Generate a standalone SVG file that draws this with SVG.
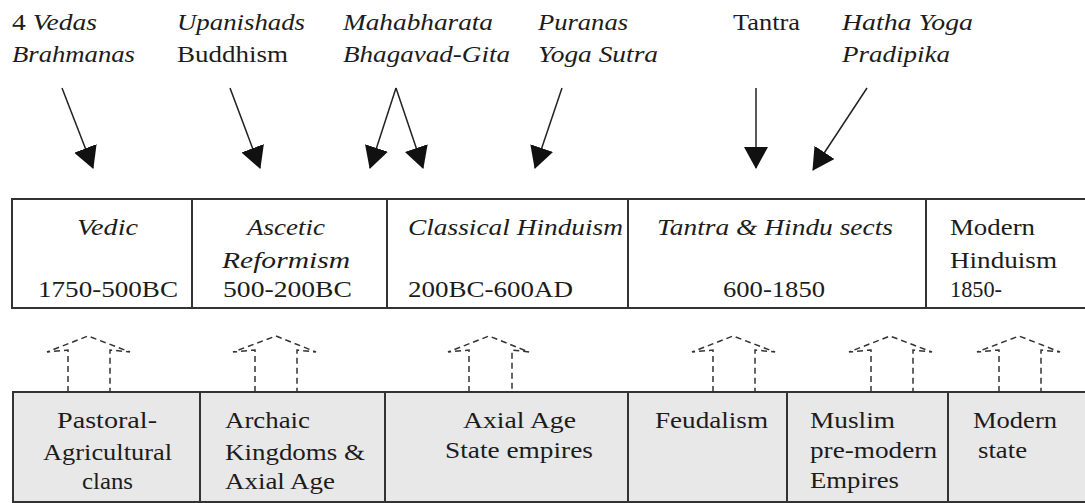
<svg xmlns="http://www.w3.org/2000/svg" width="1085" height="503" viewBox="0 0 1085 503">
  <defs>
    <marker id="head" markerUnits="userSpaceOnUse" markerWidth="24" markerHeight="26" refX="21" refY="12" orient="auto">
      <path d="M0,0 L22,12 L0,24 z" fill="#111"/>
    </marker>
  </defs>
  <style>
    text { font-family: 'Liberation Serif', serif; font-size: 24px; fill: #1c1c1c; }
    .it { font-style: italic; }
    .cell { fill: #fff; stroke: #333; stroke-width: 2; }
    .base { fill: #e8e8e8; stroke: #333; stroke-width: 2; }
    .src { stroke: #222; stroke-width: 1.5; fill: none; marker-end: url(#head); }
    .lift { stroke: #333; stroke-width: 1.5; fill: none; stroke-dasharray: 6 4; }
  </style>
  <rect width="1085" height="503" fill="#fff"/>

  <g font-family="Liberation Serif" font-size="24">
  <!-- source texts -->
  <g id="src-vedas">
    <text x="12" y="30" textLength="85" lengthAdjust="spacingAndGlyphs">4 <tspan class="it" font-style="italic">Vedas</tspan></text>
    <text class="it" font-style="italic" x="12" y="62" textLength="123" lengthAdjust="spacingAndGlyphs">Brahmanas</text>
  </g>
  <g id="src-upanishads">
    <text class="it" font-style="italic" x="177" y="30" textLength="128" lengthAdjust="spacingAndGlyphs">Upanishads</text>
    <text x="177" y="62" textLength="111" lengthAdjust="spacingAndGlyphs">Buddhism</text>
  </g>
  <g id="src-epics">
    <text class="it" font-style="italic" x="343" y="30" textLength="150" lengthAdjust="spacingAndGlyphs">Mahabharata</text>
    <text class="it" font-style="italic" x="343" y="62" textLength="167" lengthAdjust="spacingAndGlyphs">Bhagavad-Gita</text>
  </g>
  <g id="src-puranas">
    <text class="it" font-style="italic" x="538" y="30" textLength="90" lengthAdjust="spacingAndGlyphs">Puranas</text>
    <text class="it" font-style="italic" x="538" y="62" textLength="120" lengthAdjust="spacingAndGlyphs">Yoga Sutra</text>
  </g>
  <g id="src-tantra">
    <text x="733" y="30" textLength="67" lengthAdjust="spacingAndGlyphs">Tantra</text>
  </g>
  <g id="src-hatha">
    <text class="it" font-style="italic" x="842" y="30" textLength="131" lengthAdjust="spacingAndGlyphs">Hatha Yoga</text>
    <text class="it" font-style="italic" x="842" y="62" textLength="108" lengthAdjust="spacingAndGlyphs">Pradipika</text>
  </g>

  <!-- religious periods -->
  <g id="period-vedic">
    <rect class="cell" x="12" y="199" width="180" height="109"/>
    <text class="it" font-style="italic" x="77" y="235" textLength="61" lengthAdjust="spacingAndGlyphs">Vedic</text>
    <text x="38" y="297" textLength="140" lengthAdjust="spacingAndGlyphs">1750-500BC</text>
  </g>
  <g id="period-ascetic">
    <rect class="cell" x="192" y="199" width="195" height="109"/>
    <text class="it" font-style="italic" x="247" y="235" textLength="78" lengthAdjust="spacingAndGlyphs">Ascetic</text>
    <text class="it" font-style="italic" x="222" y="268" textLength="128" lengthAdjust="spacingAndGlyphs">Reformism</text>
    <text x="223" y="297" textLength="129" lengthAdjust="spacingAndGlyphs">500-200BC</text>
  </g>
  <g id="period-classical">
    <rect class="cell" x="387" y="199" width="241" height="109"/>
    <text class="it" font-style="italic" x="408" y="235" textLength="215" lengthAdjust="spacingAndGlyphs">Classical Hinduism</text>
    <text x="408" y="297" textLength="165" lengthAdjust="spacingAndGlyphs">200BC-600AD</text>
  </g>
  <g id="period-tantra">
    <rect class="cell" x="628" y="199" width="298" height="109"/>
    <text class="it" font-style="italic" x="657" y="235" textLength="236" lengthAdjust="spacingAndGlyphs">Tantra &amp; Hindu sects</text>
    <text x="723" y="297" textLength="102" lengthAdjust="spacingAndGlyphs">600-1850</text>
  </g>
  <g id="period-modern">
    <rect class="cell" x="926" y="199" width="170" height="109"/>
    <text x="950" y="235" textLength="85" lengthAdjust="spacingAndGlyphs">Modern</text>
    <text x="950" y="268" textLength="107" lengthAdjust="spacingAndGlyphs">Hinduism</text>
    <text x="950" y="297" textLength="52" lengthAdjust="spacingAndGlyphs">1850-</text>
  </g>

  <!-- social formations -->
  <g id="society-clans">
    <rect class="base" x="13" y="392" width="187" height="110"/>
    <text x="57" y="428" textLength="100" lengthAdjust="spacingAndGlyphs">Pastoral-</text>
    <text x="43" y="460" textLength="129" lengthAdjust="spacingAndGlyphs">Agricultural</text>
    <text x="82" y="489" textLength="51" lengthAdjust="spacingAndGlyphs">clans</text>
  </g>
  <g id="society-archaic">
    <rect class="base" x="200" y="392" width="185" height="110"/>
    <text x="225" y="428" textLength="85" lengthAdjust="spacingAndGlyphs">Archaic</text>
    <text x="225" y="460" textLength="140" lengthAdjust="spacingAndGlyphs">Kingdoms &amp;</text>
    <text x="225" y="489" textLength="110" lengthAdjust="spacingAndGlyphs">Axial Age</text>
  </g>
  <g id="society-axial">
    <rect class="base" x="385" y="392" width="243" height="110"/>
    <text x="463" y="428" textLength="113" lengthAdjust="spacingAndGlyphs">Axial Age</text>
    <text x="445" y="458" textLength="148" lengthAdjust="spacingAndGlyphs">State empires</text>
  </g>
  <g id="society-feudal">
    <rect class="base" x="628" y="392" width="159" height="110"/>
    <text x="655" y="428" textLength="113" lengthAdjust="spacingAndGlyphs">Feudalism</text>
  </g>
  <g id="society-muslim">
    <rect class="base" x="787" y="392" width="161" height="110"/>
    <text x="810" y="428" textLength="85" lengthAdjust="spacingAndGlyphs">Muslim</text>
    <text x="810" y="458" textLength="127" lengthAdjust="spacingAndGlyphs">pre-modern</text>
    <text x="810" y="488" textLength="89" lengthAdjust="spacingAndGlyphs">Empires</text>
  </g>
  <g id="society-modern">
    <rect class="base" x="948" y="392" width="150" height="110"/>
    <text x="973" y="428" textLength="84" lengthAdjust="spacingAndGlyphs">Modern</text>
    <text x="978" y="458" textLength="49" lengthAdjust="spacingAndGlyphs">state</text>
  </g>
  </g>

  <!-- connectors -->
  <g id="connectors">
    <line class="src" x1="62" y1="88" x2="93" y2="168"/>
    <line class="src" x1="230" y1="88" x2="260" y2="168"/>
    <line class="src" x1="396" y1="88" x2="370" y2="168"/>
    <line class="src" x1="396" y1="88" x2="423" y2="168"/>
    <line class="src" x1="562" y1="88" x2="535" y2="168"/>
    <line class="src" x1="756" y1="88" x2="756" y2="168"/>
    <line class="src" x1="867" y1="88" x2="813" y2="170"/>

    <polyline class="lift" points="68,392 68,350 47,352 88,336 130,352 110,350 110,392"/>
    <polyline class="lift" points="255,392 255,350 233,352 276,336 316,352 297,350 297,392"/>
    <polyline class="lift" points="469,392 469,350 448,352 489,336 529,352 512,350 512,392"/>
    <polyline class="lift" points="713,392 713,350 692,352 733,336 775,352 755,350 755,392"/>
    <polyline class="lift" points="871,392 871,350 849,352 890,336 932,352 913,350 913,392"/>
    <polyline class="lift" points="999,392 999,350 977,352 1019,336 1060,352 1041,350 1041,392"/>
  </g>
</svg>
